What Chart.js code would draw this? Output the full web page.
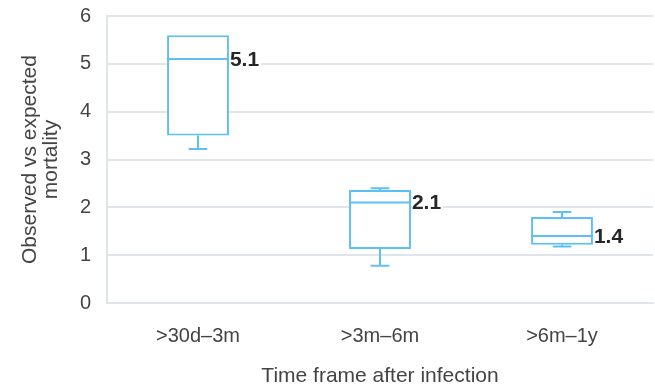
<!DOCTYPE html>
<html>
<head>
<meta charset="utf-8">
<script src="https://cdn.jsdelivr.net/npm/chart.js@4/dist/chart.umd.min.js"></script>
<style>
  html, body { margin: 0; padding: 0; background: #fff; }
  #wrap { width: 655px; height: 387px; }
</style>
</head>
<body>
<div id="wrap"><canvas id="boxChart"></canvas></div>
<script>
const categories = ['>30d–3m', '>3m–6m', '>6m–1y'];
const minVals = [3.22, 0.78, 1.18];
const q1Vals = [3.5, 1.13, 1.22];
const medianVals = [5.1, 2.1, 1.4];
const q3Vals = [5.6, 2.36, 1.8];
const maxVals = [5.6, 2.4, 1.9];
const medianLabels = ['5.1', '2.1', '1.4'];
const yTicks = [0, 1, 2, 3, 4, 5, 6];

const boxColor = '#5cbff5';
const gridColor = '#e0e4eb';
const textColor = '#444444';

// whiskers, caps, medians and the value labels
const boxExtras = {
    id: 'boxExtras',
    afterDatasetsDraw(chart) {
        const ctx = chart.ctx;
        const y = chart.scales.y;
        const meta = chart.getDatasetMeta(0);
        meta.data.forEach((bar, i) => {
            const half = bar.width / 2;
            const left = bar.x - half;
            const right = bar.x + half;
            const capHalf = bar.width * 0.15;
            const yMin = y.getPixelForValue(minVals[i]);
            const yQ1 = y.getPixelForValue(q1Vals[i]);
            const yMed = y.getPixelForValue(medianVals[i]);
            const yQ3 = y.getPixelForValue(q3Vals[i]);
            const yMax = y.getPixelForValue(maxVals[i]);

            ctx.save();
            ctx.strokeStyle = boxColor;
            ctx.lineWidth = 2;
            ctx.beginPath();
            if (maxVals[i] > q3Vals[i]) {
                ctx.moveTo(bar.x, yQ3); ctx.lineTo(bar.x, yMax);
                ctx.moveTo(bar.x - capHalf, yMax); ctx.lineTo(bar.x + capHalf, yMax);
            }
            if (minVals[i] < q1Vals[i]) {
                ctx.moveTo(bar.x, yQ1); ctx.lineTo(bar.x, yMin);
                ctx.moveTo(bar.x - capHalf, yMin); ctx.lineTo(bar.x + capHalf, yMin);
            }
            ctx.moveTo(left, yMed); ctx.lineTo(right, yMed);
            ctx.stroke();

            ctx.font = 'bold 21px "Liberation Sans", Arial, sans-serif';
            const w = ctx.measureText(medianLabels[i]).width;
            ctx.fillStyle = '#fff';
            ctx.fillRect(right + 1, yMed - 11, w + 2, 22);
            ctx.fillStyle = '#262626';
            ctx.textAlign = 'left';
            ctx.textBaseline = 'middle';
            ctx.fillText(medianLabels[i], right + 1, yMed + 1);
            ctx.restore();
        });
    }
};

const ctx = document.getElementById('boxChart').getContext('2d');
new Chart(ctx, {
    type: 'bar',
    data: {
        labels: categories,
        datasets: [{
            data: categories.map((_, i) => [q1Vals[i], q3Vals[i]]),
            backgroundColor: '#fff',
            borderColor: boxColor,
            borderWidth: 2,
            borderSkipped: false,
            barPercentage: 0.34,
            categoryPercentage: 1
        }]
    },
    options: {
        responsive: true,
        maintainAspectRatio: false,
        animation: false,
        layout: { padding: { top: 16, right: 2, left: 0, bottom: 0 } },
        plugins: {
            legend: { display: false },
            tooltip: { enabled: false }
        },
        scales: {
            x: {
                grid: { display: false, drawTicks: false },
                border: { display: true, color: gridColor, width: 2 },
                ticks: {
                    color: textColor,
                    padding: 21,
                    font: { family: '"Liberation Sans", Arial, sans-serif', size: 20 }
                },
                title: {
                    display: true,
                    text: 'Time frame after infection',
                    color: textColor,
                    padding: 0,
                    font: { family: '"Liberation Sans", Arial, sans-serif', size: 21, lineHeight: 1 }
                },
                afterFit(scale) { scale.height = 84; }
            },
            y: {
                min: 0,
                max: 6,
                afterBuildTicks(scale) { scale.ticks = yTicks.map(v => ({ value: v })); },
                grid: { color: gridColor, lineWidth: 2, drawTicks: false },
                border: { display: true, color: gridColor, width: 2 },
                ticks: {
                    color: textColor,
                    padding: 16,
                    font: { family: '"Liberation Sans", Arial, sans-serif', size: 20 }
                },
                title: {
                    display: true,
                    text: ['Observed vs expected', 'mortality'],
                    color: textColor,
                    padding: { top: 20, bottom: 0 },
                    font: { family: '"Liberation Sans", Arial, sans-serif', size: 21, lineHeight: 1 }
                },
                afterFit(scale) {
                    scale.width = 107;
                    scale.paddingTop = 0;
                    scale.paddingBottom = 0;
                }
            }
        }
    },
    plugins: [boxExtras]
});
</script>
</body>
</html>
